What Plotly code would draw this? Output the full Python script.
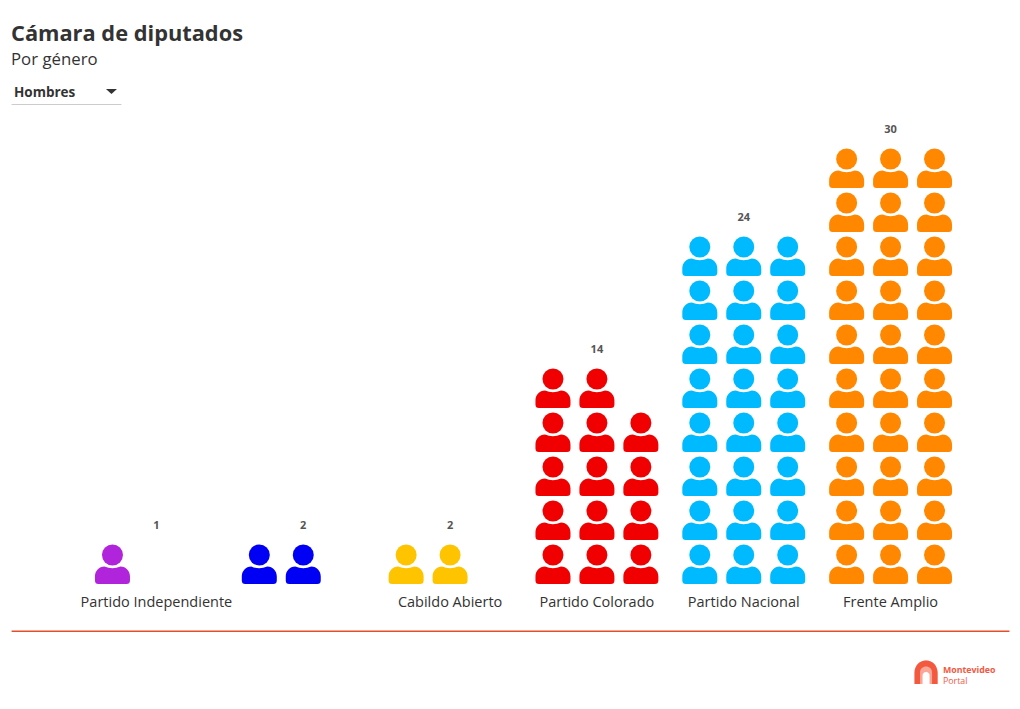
import math
import plotly.graph_objects as go

parties = ["Partido Independiente", "", "Cabildo Abierto", "Partido Colorado", "Partido Nacional", "Frente Amplio"]
men = [1, 2, 2, 14, 24, 30]
colors = ["#B024DB", "#0000F5", "#FFC400", "#F00000", "#00BAFF", "#FF8800"]
title = "Cámara de diputados"
subtitle = "Por género"
selected = "Hombres"
logo_top = "Montevideo"
logo_bottom = "Portal"

FONT = "Open Sans"
PER_ROW = 3
COL = 44 / 147
BODY = ("M -17.5 -29 L -17.5 -21.5 C -17.5 -16 -13.5 -11.5 -8 -11.5 Q 0 -15 8 -11.5 "
        "C 13.5 -11.5 17.5 -16 17.5 -21.5 L 17.5 -25.5 Q 17.5 -29 14 -29 L -14 -29 Q -17.5 -29 -17.5 -25.5 Z")
LOGO_PALE = ("M 0 0 L 0 11.5 C 0 18 5 23.5 11.5 23.5 C 18 23.5 23 18 23 11.5 L 23 0 L 15 0 L 15 8.5 "
             "C 15 10.5 13.5 12 11.5 12 C 9.5 12 8 10.5 8 8.5 L 8 0 Z")
LOGO = ("M 0 0 L 0 11.5 C 0 18 5 23.5 11.5 23.5 C 18 23.5 23 18 23 11.5 L 23 0 L 17.5 0 L 17.5 11.5 "
        "C 17.5 15 15 17.5 11.5 17.5 C 8 17.5 5.5 15 5.5 11.5 L 5.5 0 Z")

def px(x):
    return (x - 82.5) / 882

def py(y):
    return (709 - y - 119) / 470

fig = go.Figure()
shapes = []
for i, (n, c) in enumerate(zip(men, colors)):
    xs, ys = [], []
    for k in range(n):
        col, row = k % PER_ROW, k // PER_ROW
        xs.append(i + (col - 1) * COL)
        ys.append(row)
    fig.add_trace(go.Scatter(x=xs, y=ys, mode="markers", showlegend=False, hoverinfo="skip",
                             marker=dict(symbol="circle", size=21, color=c, line=dict(width=0))))
    for x, y in zip(xs, ys):
        shapes.append(dict(type="path", xref="x", yref="y", xsizemode="pixel", ysizemode="pixel",
                           xanchor=x, yanchor=y, path=BODY, fillcolor=c, line=dict(width=0), layer="above"))

fig.add_trace(go.Scatter(x=list(range(len(men))), y=[math.ceil(v / PER_ROW) - 1 + 29 / 44 for v in men],
                         mode="text", text=[str(v) for v in men], showlegend=False, hoverinfo="skip",
                         textposition="middle center",
                         textfont=dict(family=FONT, size=11, color="#555555", weight="bold")))

def pixel_shape(ax, ay, path, color):
    return dict(type="path", xref="paper", yref="paper", xsizemode="pixel", ysizemode="pixel",
                xanchor=px(ax), yanchor=py(ay), path=path, fillcolor=color, line=dict(width=0), layer="above")

shapes += [
    dict(type="line", xref="paper", yref="paper", x0=px(11), x1=px(1010), y0=py(631.2), y1=py(631.2),
         line=dict(color="#E2502A", width=1.5)),
    dict(type="line", xref="paper", yref="paper", x0=px(11), x1=px(121), y0=py(104.5), y1=py(104.5),
         line=dict(color="#cccccc", width=1)),
    pixel_shape(111, 91.5, "M -5.5 2.5 L 5.5 2.5 L 0 -2.5 Z", "#333333"),
    pixel_shape(915, 684, LOGO_PALE, "#F9A898"),
    pixel_shape(915, 684, LOGO, "#F4583F"),
]

def note(text, x, y, size, color="#333333", weight=None):
    font = dict(family=FONT, size=size, color=color)
    if weight:
        font["weight"] = weight
    return dict(text=text, xref="paper", yref="paper", x=px(x), y=py(y), xanchor="left", yanchor="middle",
                showarrow=False, font=font)

fig.update_layout(
    width=1020, height=709, autosize=False,
    margin=dict(l=82.5, r=55.5, t=120, b=119),
    paper_bgcolor="white", plot_bgcolor="white",
    shapes=shapes,
    xaxis=dict(range=[-0.5, 5.5], tickmode="array", tickvals=list(range(6)), ticktext=parties,
               showgrid=False, zeroline=False, showline=False, ticks="", ticklabelstandoff=1,
               tickfont=dict(family=FONT, size=14.5, color="#333333")),
    yaxis=dict(range=[-35/44, 435/44], visible=False),
    annotations=[
        note(title, 8, 32.5, 21.8, weight="bold"),
        note(subtitle, 8, 59, 16.8),
        note(selected, 11.5, 92, 13.5, weight="bold"),
        note(logo_top, 941, 670, 8.8, color="#F4583F", weight="bold"),
        note(logo_bottom, 941, 680.5, 8.8, color="#F4583F"),
    ],
)
fig.write_html("out.html", config=dict(displayModeBar=False), post_script="document.body.style.margin='0';")
